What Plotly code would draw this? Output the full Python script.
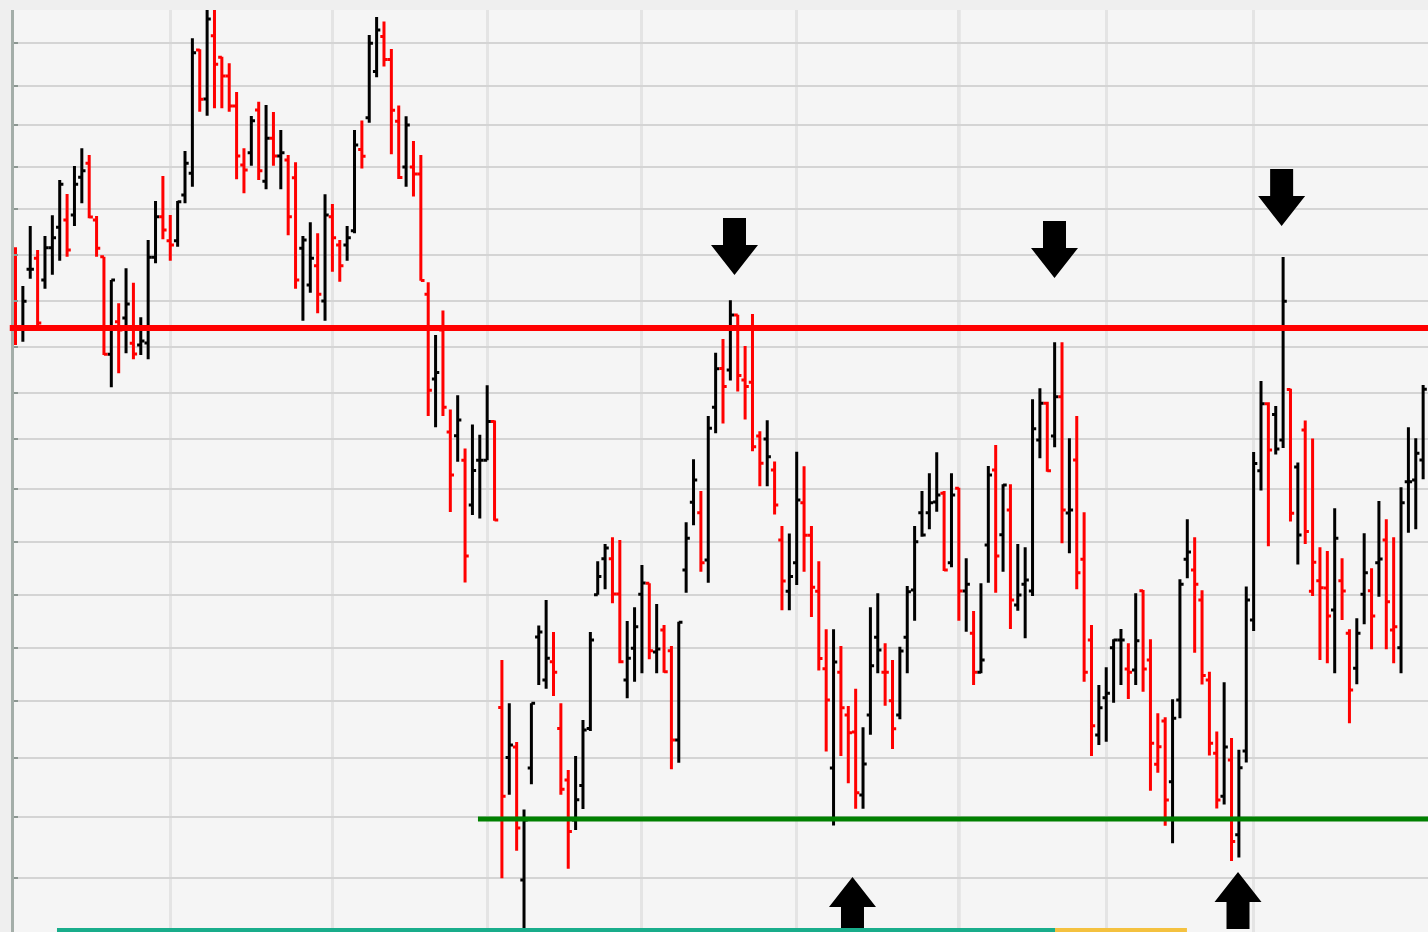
import plotly.graph_objects as go

# ---- data (price units) ----
open_ = [700, 673, 730.7, 741.7, 720, 752.3, 772.7, 780, 785, 822.7,
         836.7, 780, 743.3, 645.7, 678.3, 682, 656.7, 655, 657, 742.7,
         783.3, 759.3, 759.3, 805, 826.7, 950, 901, 964.3, 942.7, 924,
         894, 835, 847.3, 890, 818.7, 861.7, 844, 840, 822.3, 751.7,
         715, 734.3, 699, 783.3, 755, 755, 769.3, 850.6, 882.2, 928.5,
         963.5, 940.5, 878.8, 832.9, 832.9, 826.1, 705.7, 621, 670, 567.9,
         564.2, 539.7, 495, 539.7, 539.7, 578.5, 292.5, 242.5, 253.1, 120,
         232, 363, 320, 338.3, 271.4, 220, 180, 214.4, 271.4, 405.2,
         441.3, 441.3, 406, 320, 351.7, 405.7, 416.7, 348, 370, 349.3,
         260, 430, 497.7, 487.3, 440, 592.7, 631.5, 630, 684.9, 620,
         617.7, 564, 560.9, 529.9, 460, 408.7, 437.3, 497.2, 464.8, 408.7,
         331.2, 232, 327.7, 285, 268, 205, 285, 362.7, 327.7, 299.3,
         285, 362.7, 410, 487.3, 487.3, 498, 506.7, 437.3, 511.7, 409,
         366.7, 327.7, 455, 530, 465.3, 490, 395, 415.7, 409, 560,
         596.7, 564, 603.3, 487, 540, 440.7, 360, 265, 302.3, 352.3,
         360, 331, 330, 409.3, 340, 235.7, 279, 218.3, 300, 440.7,
         430, 400, 320, 246.7, 203.7, 240, 165.2, 249, 380, 529.3,
         596.3, 585.5, 560, 610.4, 532.9, 570, 408.8, 419.3, 412, 390,
         419.3, 366.7, 331.7, 405.7, 409.3, 437.3, 460, 370, 352.3, 518.3,
         520, 540]
high = [752.7, 714, 774, 750, 764, 784.7, 820, 806, 834, 851.7,
        845, 784, 743.3, 720, 696.7, 731.7, 717.3, 682.7, 760, 799,
        824, 785, 799, 849, 961.7, 950.7, 992, 992, 943.3, 936.7,
        908, 851.7, 884, 898.3, 895, 888, 870, 845, 837.7, 764,
        777.7, 766.7, 805.7, 796, 760, 774, 870, 879.6, 965, 983.1,
        978.5, 951.1, 894.6, 883.7, 858.9, 844.9, 717.7, 665, 689.5, 590.5,
        604.8, 551.4, 575.5, 565.3, 614.7, 579.5, 340, 296.8, 258, 190.4,
        296.8, 374.6, 400, 367.9, 296.8, 229.9, 243.9, 279.9, 367.9, 438.7,
        456, 462.7, 460, 379, 392.7, 435, 416.7, 396, 375, 354,
        378.3, 477.7, 540.7, 509, 584, 647.3, 661.1, 699.7, 685.2, 653.9,
        685.9, 568.8, 579.8, 538.5, 474.1, 466.5, 548.2, 533.7, 474.1, 438.7,
        370.8, 370.8, 354, 294, 311.3, 272.7, 392.7, 406.7, 356.7, 340,
        353.3, 414, 474, 509, 526.7, 547.7, 509, 526.7, 512.3, 441.7,
        389, 416.7, 534, 555, 515.7, 515.7, 456, 452.7, 600.7, 611.7,
        598.3, 657.7, 657.7, 561.7, 584, 487.7, 375, 315, 332.7, 360.7,
        371, 356.7, 406.7, 410, 360.7, 286.7, 282.7, 300.7, 420.7, 480.7,
        462.7, 409.7, 328.2, 268.4, 317.8, 262.1, 250.3, 413.4, 547.9, 619,
        597.7, 594, 743, 611.3, 537.5, 579.6, 561.5, 452.7, 449, 491.7,
        441.7, 370.7, 381.7, 466.7, 431.7, 499, 480.7, 462.7, 512.7, 572.7,
        561.7, 615]
low = [655, 658.3, 721.3, 675, 711.3, 725.3, 739.3, 743.3, 774, 796.7,
       781.7, 743.3, 645, 612.7, 626.7, 646.7, 640.7, 645, 640.7, 736.7,
       760.7, 739.3, 753.3, 796.7, 813.3, 888.3, 884.3, 891.7, 891.7, 888.3,
       820.7, 806.7, 834.3, 820, 810.7, 834.3, 810.7, 764.7, 711.3, 679.3,
       707.3, 686.7, 679.3, 728.3, 718.3, 739.3, 766.7, 831.4, 877.3, 922.8,
       933.4, 845.7, 820.9, 813.3, 803.5, 719.2, 584.1, 572.8, 584.1, 488.1,
       538.2, 417.4, 485.1, 481.4, 539.7, 479.2, 121.8, 205.2, 149.2, 65,
       215.8, 315.1, 311.2, 304.1, 205.2, 131.3, 170, 191.1, 269, 405.2,
       410.7, 396.7, 336.7, 301.7, 318.3, 326.7, 340.7, 326.7, 327.3, 230.7,
       237.3, 407.3, 474.7, 428.3, 417.3, 566.7, 576.4, 619.4, 608.4, 580.5,
       548.8, 513.7, 513.7, 485.5, 389.8, 389.8, 414.9, 428.3, 382.9, 329.5,
       248.6, 174.5, 244, 216.7, 191.3, 191.3, 265.3, 326.7, 294.3, 251,
       280.7, 326.7, 379.3, 463.3, 470.7, 488.3, 429, 432.7, 379.3, 368.3,
       315, 326.7, 417.3, 407.3, 428.3, 371, 389.3, 361.7, 404, 541.7,
       528.3, 552.7, 456.7, 446.7, 410.7, 318.3, 244, 255, 258.3, 297.3,
       315, 301, 315, 308.3, 209.3, 227.3, 174.3, 156.7, 281.7, 421.7,
       347.3, 315.5, 244.4, 191.4, 195.5, 138.9, 142.5, 237.6, 369, 509.4,
       453.7, 545.6, 552, 478.6, 435.6, 456, 403.9, 340, 336.7, 326.7,
       380, 276.7, 315.7, 375.7, 350.7, 403.3, 350.7, 336.7, 326.7, 467.3,
       470.7, 520.7]
close = [672, 698.7, 730.7, 677, 752.3, 762.3, 815.7, 750, 815.7, 829.3,
         783, 751.7, 645.7, 720, 670, 696, 646, 659, 742.7, 783.3,
         770, 755, 798.3, 836.7, 947.3, 900.7, 981, 935.7, 924, 894,
         844, 830, 879.3, 829.3, 861.7, 844, 847.3, 783.3, 720, 760,
         741.7, 705.7, 785, 762.3, 734.3, 762.3, 855, 843.8, 956.7, 970,
         940.5, 889.7, 822.4, 875, 826.1, 719.6, 609.7, 627.4, 592.8, 525,
         580, 444.1, 529.5, 539.7, 578.5, 479.9, 203.8, 255, 172.1, 180,
         296.8, 368, 341.8, 327.7, 210.8, 168.6, 200.3, 270, 360, 423.5,
         452, 406, 338.3, 341.7, 373.3, 417, 349.3, 351, 328.3, 260,
         377.7, 461.7, 520, 437.3, 571.7, 631.3, 613.6, 684.9, 624.6, 613.6,
         553.3, 536.8, 543.3, 495, 419, 423.5, 500, 464.8, 412.8, 341.5,
         300, 338.1, 292.3, 267.3, 207.3, 236, 334.3, 350, 327.7, 271.3,
         349, 408.3, 458.3, 465, 497.3, 505, 430, 505, 409, 415.7,
         327.7, 340, 525, 444, 515, 400, 405, 420, 571.3, 596.7,
         529.3, 603.3, 490, 490, 427.3, 327.7, 274.3, 292.3, 306.7, 360,
         360, 327.7, 359.3, 331, 256.7, 253.3, 200, 281.7, 415.7, 448,
         415.7, 324.6, 256.7, 200, 253, 158.4, 232.2, 400, 536.6, 596.3,
         550, 551, 698.7, 486.7, 465, 468.6, 437.8, 412.3, 384, 461.7,
         409, 310, 366.7, 427.3, 384, 441, 398.3, 373.3, 497.3, 518.3,
         546.7, 610.7]
# 1 = black bar (up), 0 = red bar (down)
up = [0, 1, 1, 0, 1, 1, 1, 0, 1, 1,
      0, 0, 0, 1, 0, 1, 0, 1, 1, 1,
      0, 0, 1, 1, 1, 0, 1, 0, 0, 0,
      0, 0, 1, 0, 1, 0, 1, 0, 0, 1,
      1, 0, 1, 0, 0, 1, 1, 0, 1, 1,
      0, 0, 0, 1, 0, 0, 0, 1, 0, 0,
      1, 0, 1, 1, 1, 0, 0, 1, 0, 1,
      1, 1, 1, 0, 0, 0, 1, 1, 1, 1,
      1, 0, 0, 1, 1, 1, 0, 1, 0, 0,
      1, 1, 1, 0, 1, 1, 0, 1, 0, 0,
      0, 0, 1, 0, 0, 1, 1, 0, 0, 0,
      0, 1, 0, 0, 0, 1, 1, 1, 0, 0,
      1, 1, 1, 1, 1, 1, 0, 1, 0, 1,
      0, 1, 1, 0, 1, 0, 1, 1, 1, 1,
      0, 1, 0, 1, 0, 0, 0, 1, 1, 1,
      1, 0, 1, 0, 0, 0, 0, 1, 1, 1,
      0, 0, 0, 0, 1, 0, 1, 1, 1, 1,
      0, 1, 1, 0, 1, 0, 0, 0, 0, 1,
      0, 0, 1, 1, 0, 1, 0, 0, 1, 1,
      1, 1]

month_starts = [21, 43, 64, 85, 106, 128, 148, 168]
year_start = 128
grid_levels = [956.7, 914.3, 875, 832.7, 790.7, 744.7, 698.7, 652.7, 606.6,
               561, 511, 458, 405, 352, 299, 242.5, 183, 122.5]
resistance_level = 672
support_level = 181
support_from = 62.75
down_arrow_x = [97.56, 140.98, 171.8]
down_arrow_tip = [725, 722, 774]
up_arrow_x = [113.57, 165.88]
up_arrow_tip = [123, 128]
band_bounds = [5.63, 141.05, 158.95]
band_colors = ["#19ad8b", "#f4c13f"]

# ---- figure ----
idx = list(range(len(open_)))
fig = go.Figure()
for flag, col in [(1, "#000000"), (0, "#ff0000")]:
    sel = [i for i in idx if up[i] == flag]
    fig.add_trace(go.Ohlc(
        x=sel,
        open=[open_[i] for i in sel], high=[high[i] for i in sel],
        low=[low[i] for i in sel], close=[close[i] for i in sel],
        line=dict(width=3),
        increasing=dict(line=dict(color=col, width=3)),
        decreasing=dict(line=dict(color=col, width=3)),
        tickwidth=0.5, hoverinfo="skip", showlegend=False))

shapes = []
shapes.append(dict(type="line", xref="x", yref="y", x0=year_start, x1=year_start,
                   y0=0, y1=1100, line=dict(color="#d0d0d0", width=3), layer="below"))
shapes.append(dict(type="line", xref="paper", yref="y", x0=-0.003, x1=1,
                   y0=resistance_level, y1=resistance_level,
                   line=dict(color="#ff0000", width=6), layer="above"))
shapes.append(dict(type="line", xref="x", yref="y", x0=support_from, x1=250,
                   y0=support_level, y1=support_level,
                   line=dict(color="#008000", width=5), layer="above"))

sw, hw, hh, total = 11.5 / 7.37, 23.5 / 7.37, 30, 57
for xt, pt in zip(down_arrow_x, down_arrow_tip):
    path = (f"M{xt - sw},{pt + total} L{xt + sw},{pt + total} L{xt + sw},{pt + hh} "
            f"L{xt + hw},{pt + hh} L{xt},{pt} L{xt - hw},{pt + hh} L{xt - sw},{pt + hh} Z")
    shapes.append(dict(type="path", xref="x", yref="y", path=path,
                       fillcolor="#000000", line=dict(width=0), layer="above"))
for xt, pt in zip(up_arrow_x, up_arrow_tip):
    path = (f"M{xt - sw},{pt - total} L{xt + sw},{pt - total} L{xt + sw},{pt - hh} "
            f"L{xt + hw},{pt - hh} L{xt},{pt} L{xt - hw},{pt - hh} L{xt - sw},{pt - hh} Z")
    shapes.append(dict(type="path", xref="x", yref="y", path=path,
                       fillcolor="#000000", line=dict(width=0), layer="above"))

for i, col in enumerate(band_colors):
    shapes.append(dict(type="rect", xref="x", yref="paper",
                       x0=band_bounds[i], x1=band_bounds[i + 1], y0=0, y1=4 / 922,
                       fillcolor=col, line=dict(width=0), layer="above"))

fig.update_layout(
    width=1428, height=932,
    margin=dict(l=14, r=0, t=10, b=0, pad=0),
    paper_bgcolor="#efefef", plot_bgcolor="#f5f5f5",
    showlegend=False, shapes=shapes,
    xaxis=dict(range=[-0.2035, 191.66], tickmode="array", tickvals=month_starts,
               showticklabels=False, showgrid=True, gridcolor="#e4e4e4", gridwidth=3,
               zeroline=False, showline=False, ticks="", rangeslider=dict(visible=False),
               fixedrange=True),
    yaxis=dict(range=[68, 990], tickmode="array", tickvals=grid_levels,
               showticklabels=False, showgrid=True, gridcolor="#d4d4d4", gridwidth=2,
               zeroline=False, showline=True, linecolor="#a4aea9", linewidth=3,
               ticks="inside", ticklen=4, tickwidth=2, tickcolor="#8d9792",
               fixedrange=True),
)

fig.write_html("out.html", config={"displayModeBar": False},
               post_script="document.body.style.margin='0';document.body.style.overflow='hidden';")
